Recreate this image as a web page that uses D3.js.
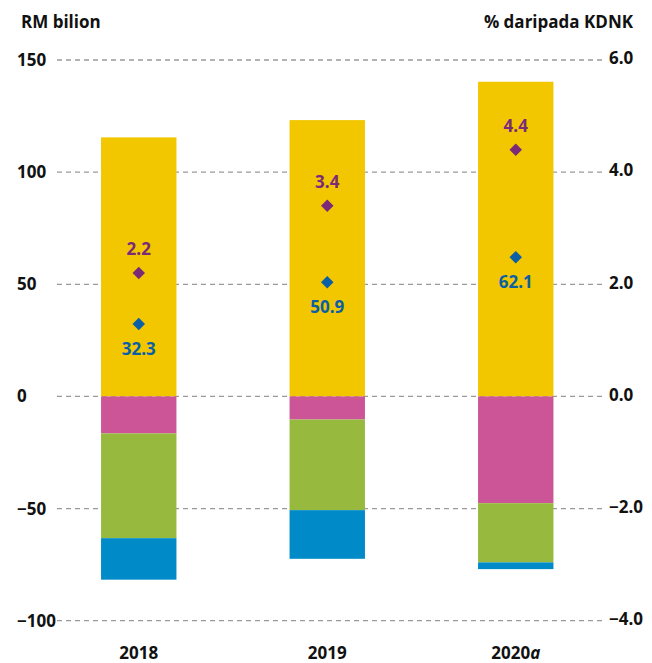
<!DOCTYPE html>
<html>
<head>
<meta charset="utf-8">
<script src="https://cdn.jsdelivr.net/npm/d3@7"></script>
<style>
	body { margin: 0; background: #fff; }
	svg text { font-family: 'Open Sans', 'Noto Sans', sans-serif; font-weight: 700; }
</style>
</head>
<body>
<div id="chart"></div>
<script>
// data (RM bilion, % daripada KDNK)
var years = ['2018', '2019', '2020'];
var yellowValues = [115.5, 123.2, 140.3];
var pinkValues = [-16.5, -10.3, -47.6];
var greenValues = [-46.7, -40.4, -26.4];
var blueValues = [-18.5, -21.7, -3.0];
var rmValues = [32.3, 50.9, 62.1];
var gdpValues = [2.2, 3.4, 4.4];
var leftTicks = [150, 100, 50, 0, -50, -100];
var rightTicks = [6, 4, 2, 0, -2, -4];

var colors = {
	yellow: '#f2c700',
	pink: '#cc5597',
	green: '#97b93d',
	blue: '#008bc8',
	rm: '#0b5fa5',
	gdp: '#7b2a78'
};

var width = 652, height = 663;
var fontSize = 17;

var svg = d3.select('#chart')
	.append('svg')
	.attr('width', width)
	.attr('height', height);

var x = d3.scaleBand()
	.domain(years)
	.range([44.5, 610])
	.paddingInner(0.6)
	.paddingOuter(0.3);

var y = d3.scaleLinear()
	.domain([-100, 150])
	.range([620.7, 60]);

var y2 = d3.scaleLinear()
	.domain([-4, 6])
	.range([620.7, 60]);

// gridlines
svg.append('g')
	.selectAll('line')
	.data(leftTicks).enter()
	.append('line')
	.attr('x1', 57)
	.attr('x2', 604)
	.attr('y1', function(d) { return y(d); })
	.attr('y2', function(d) { return y(d); })
	.attr('stroke', '#9a9a9a')
	.attr('stroke-width', 1.3)
	.attr('stroke-dasharray', '5,4');

// left axis
var leftAxis = d3.axisLeft(y).tickValues(leftTicks).tickSize(0).tickFormat(d3.format('d'));
var gl = svg.append('g').attr('transform', 'translate(17,0)').call(leftAxis);
gl.select('.domain').remove();
gl.selectAll('text')
	.attr('x', 0)
	.attr('text-anchor', 'start')
	.attr('font-size', fontSize)
	.attr('fill', '#111');

// right axis
var rightAxis = d3.axisRight(y2).tickValues(rightTicks).tickSize(0).tickFormat(d3.format('.1f'));
var gr = svg.append('g').attr('transform', 'translate(609,0)').call(rightAxis);
gr.select('.domain').remove();
gr.selectAll('text')
	.attr('x', 0)
	.attr('dy', '0.22em')
	.attr('font-size', fontSize)
	.attr('fill', '#111');

// bars, stacked: positives up, negatives down
var stacks = years.map(function(yr, i) {
	var parts = [];
	parts.push({ key: yr, y0: 0, y1: yellowValues[i], color: colors.yellow });
	var base = 0;
	[[pinkValues[i], colors.pink], [greenValues[i], colors.green], [blueValues[i], colors.blue]].forEach(function(p) {
		parts.push({ key: yr, y0: base, y1: base + p[0], color: p[1] });
		base += p[0];
	});
	return parts;
});

svg.append('g')
	.selectAll('rect')
	.data(d3.merge(stacks)).enter()
	.append('rect')
	.attr('x', function(d) { return x(d.key); })
	.attr('width', x.bandwidth())
	.attr('y', function(d) { return y(Math.max(d.y0, d.y1)); })
	.attr('height', function(d) { return Math.abs(y(d.y0) - y(d.y1)); })
	.attr('fill', function(d) { return d.color; });

var diamond = d3.symbol().type(d3.symbolDiamond2).size(100);

// RM points (left axis)
var rmG = svg.append('g').selectAll('g')
	.data(rmValues).enter()
	.append('g')
	.attr('transform', function(d, i) { return 'translate(' + (x(years[i]) + x.bandwidth() / 2) + ',' + y(d) + ')'; });
rmG.append('path').attr('d', diamond).attr('fill', colors.rm);
rmG.append('text')
	.attr('y', 25)
	.attr('dy', '0.35em')
	.attr('text-anchor', 'middle')
	.attr('font-size', fontSize)
	.attr('fill', colors.rm)
	.text(function(d) { return d.toFixed(1); });

// % of GDP points (right axis)
var gdpG = svg.append('g').selectAll('g')
	.data(gdpValues).enter()
	.append('g')
	.attr('transform', function(d, i) { return 'translate(' + (x(years[i]) + x.bandwidth() / 2) + ',' + y2(d) + ')'; });
gdpG.append('path').attr('d', diamond).attr('fill', colors.gdp);
gdpG.append('text')
	.attr('y', -24)
	.attr('dy', '0.35em')
	.attr('text-anchor', 'middle')
	.attr('font-size', fontSize)
	.attr('fill', colors.gdp)
	.text(function(d) { return d.toFixed(1); });

// x labels
var xl = svg.append('g').selectAll('text')
	.data(years).enter()
	.append('text')
	.attr('x', function(d) { return x(d) + x.bandwidth() / 2; })
	.attr('y', 654)
	.attr('dy', '0.3em')
	.attr('text-anchor', 'middle')
	.attr('font-size', fontSize)
	.attr('fill', '#111');
xl.append('tspan').text(function(d) { return d; });
xl.filter(function(d) { return d === '2020'; })
	.append('tspan')
	.attr('font-style', 'italic')
	.text('a');

// axis titles
svg.append('text')
	.attr('x', 21).attr('y', 22).attr('dy', '0.35em')
	.attr('font-size', fontSize).attr('fill', '#111')
	.text('RM bilion');
svg.append('text')
	.attr('x', 633).attr('y', 22).attr('dy', '0.35em')
	.attr('text-anchor', 'end')
	.attr('font-size', fontSize).attr('fill', '#111')
	.text('% daripada KDNK');
</script>
</body>
</html>
